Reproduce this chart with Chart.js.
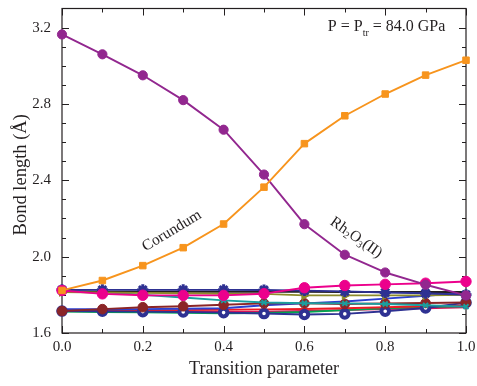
<!DOCTYPE html>
<html><head><meta charset="utf-8">
<script src="https://cdn.jsdelivr.net/npm/chart.js@4/dist/chart.umd.min.js"></script>
<style>html,body{margin:0;padding:0;background:#fff}#wrap{width:477px;height:386px}</style>
</head><body><div id="wrap"><canvas id="c" width="477" height="386"></canvas></div>
<script>
// Transition parameter (x) and bond lengths in Å for each pathway bond
const transition = [0.0, 0.1, 0.2, 0.3, 0.4, 0.5, 0.6, 0.7, 0.8, 0.9, 1.0];
const corundum   = [1.823, 1.875, 1.953, 2.047, 2.171, 2.364, 2.592, 2.738, 2.852, 2.951, 3.029];
const rh2o3      = [3.164, 3.060, 2.950, 2.820, 2.665, 2.430, 2.170, 2.010, 1.917, 1.853, 1.797];
const navyStar   = [1.826, 1.826, 1.826, 1.826, 1.826, 1.825, 1.822, 1.818, 1.812, 1.808, 1.800];
const pinkBond   = [1.823, 1.805, 1.798, 1.797, 1.797, 1.806, 1.837, 1.849, 1.855, 1.861, 1.870];
const tealBond   = [1.823, 1.815, 1.800, 1.786, 1.771, 1.760, 1.756, 1.755, 1.752, 1.745, 1.738];
const oliveBond  = [1.815, 1.812, 1.810, 1.808, 1.806, 1.805, 1.797, 1.797, 1.797, 1.797, 1.800];
const blackBond  = [1.817, 1.817, 1.816, 1.816, 1.816, 1.816, 1.816, 1.815, 1.815, 1.815, 1.815];
const darkRed    = [1.715, 1.725, 1.735, 1.740, 1.748, 1.755, 1.755, 1.752, 1.755, 1.757, 1.760];
const redBond    = [1.715, 1.716, 1.718, 1.720, 1.722, 1.724, 1.726, 1.730, 1.735, 1.740, 1.745];
const greenBond  = [1.712, 1.710, 1.708, 1.706, 1.703, 1.705, 1.710, 1.720, 1.730, 1.737, 1.740];
const blueBond   = [1.725, 1.725, 1.725, 1.727, 1.730, 1.745, 1.755, 1.765, 1.780, 1.795, 1.810];
const raspberry  = [1.715, 1.715, 1.713, 1.712, 1.710, 1.712, 1.715, 1.720, 1.725, 1.730, 1.735];
const navyRing   = [1.715, 1.714, 1.712, 1.710, 1.707, 1.702, 1.697, 1.700, 1.714, 1.731, 1.759];

const xTicks = [0.0, 0.2, 0.4, 0.6, 0.8, 1.0];
const yTicks = [1.6, 2.0, 2.4, 2.8, 3.2];

const SERIF = '"Liberation Serif", "Times New Roman", serif';

function pts(values) {
  return values.map((v, i) => ({ x: transition[i], y: v }));
}
function series(label, values, color, style) {
  return Object.assign({
    label, data: pts(values),
    borderColor: color, backgroundColor: color,
    borderWidth: 1.9, pointRadius: 0, pointBorderWidth: 1,
    pointBorderColor: color, pointBackgroundColor: color,
    clip: false, tension: 0
  }, style || {});
}

const datasets = [
  series('Corundum', corundum, '#f7941d', { pointStyle: 'rect', pointRadius: 4.6 }),
  series('Rh2O3(II)', rh2o3, '#92278f', { pointStyle: 'circle', pointRadius: 4.6 }),
  series('a', pinkBond, '#ec008c', { pointStyle: 'circle', pointRadius: 5.2 }),
  series('b', navyStar, '#2e3192', { pointStyle: 'star', pointRadius: 5.5, pointBorderWidth: 3 }),
  series('c', oliveBond, '#8d8b2a', { pointStyle: 'triangle', pointRadius: 5, rotation: 90 }),
  series('d', blackBond, '#231f20'),
  series('e', tealBond, '#1b9e9e', { pointStyle: 'crossRot', pointRadius: 3.5, pointBorderWidth: 2 }),
  series('f', darkRed, '#8b2527', { pointStyle: 'circle', pointRadius: 4.8 }),
  series('g', navyRing, '#2e3192', { pointStyle: 'circle', pointRadius: 3.8, pointBorderWidth: 4, pointBackgroundColor: '#ffffff' }),
  series('h', blueBond, '#2b3fd0'),
  series('i', redBond, '#ed1c24'),
  series('j', greenBond, '#00a651'),
  series('k', raspberry, '#d4145a')
];

// Inward ticks on all four sides, the frame, and the in-plot labels
const frameAndLabels = {
  id: 'frameAndLabels',
  beforeDatasetsDraw(chart) {
    const { ctx, chartArea: a, scales: { x, y } } = chart;
    ctx.save();
    ctx.strokeStyle = '#231f20';
    ctx.lineWidth = 1.2;
    ctx.strokeRect(a.left, a.top, a.right - a.left, a.bottom - a.top);
    ctx.lineWidth = 1;
    ctx.beginPath();
    for (let i = 0; i <= 10; i++) {
      const v = i / 10;
      const len = (i % 2 === 0) ? 7 : 4;
      const px = Math.round(x.getPixelForValue(v)) + 0.5;
      ctx.moveTo(px, a.bottom); ctx.lineTo(px, a.bottom - len);
      ctx.moveTo(px, a.top); ctx.lineTo(px, a.top + len);
    }
    for (let i = 0; i <= 17; i++) {
      const v = 1.6 + i * 0.1;
      const major = i % 4 === 0;
      const len = major ? 7 : 4;
      const py = Math.round(y.getPixelForValue(v)) + 0.5;
      ctx.moveTo(a.left, py); ctx.lineTo(a.left + len, py);
      ctx.moveTo(a.right, py); ctx.lineTo(a.right - len, py);
    }
    ctx.stroke();
    ctx.restore();
  },
  afterDatasetsDraw(chart) {
    const { ctx, chartArea: a, scales: { x, y } } = chart;
    ctx.save();
    ctx.fillStyle = '#231f20';
    ctx.textBaseline = 'alphabetic';

    // pressure note
    let cx = x.getPixelForValue(0.658), cy = y.getPixelForValue(3.184);
    const big = '16px ' + SERIF, small = '10px ' + SERIF;
    const parts = [['P = P', big, 0], ['tr', small, 5], [' = 84.0 GPa', big, 0]];
    ctx.textAlign = 'left';
    for (const [t, f, dy] of parts) {
      ctx.font = f; ctx.fillText(t, cx, cy + dy); cx += ctx.measureText(t).width;
    }

    // Corundum label along the rising branch
    ctx.save();
    ctx.translate(x.getPixelForValue(0.272), y.getPixelForValue(2.135));
    ctx.rotate(-31 * Math.PI / 180);
    ctx.font = '15.5px ' + SERIF;
    ctx.textAlign = 'center';
    ctx.textBaseline = 'middle';
    ctx.fillText('Corundum', 0, 0);
    ctx.restore();

    // Rh2O3(II) label along the falling branch
    ctx.save();
    ctx.translate(x.getPixelForValue(0.728), y.getPixelForValue(2.10));
    ctx.rotate(35 * Math.PI / 180);
    const rparts = [['Rh', '15.5px ' + SERIF, 0], ['2', '10px ' + SERIF, 4], ['O', '15.5px ' + SERIF, 0], ['3', '10px ' + SERIF, 4], ['(II)', '15.5px ' + SERIF, 0]];
    let w = 0;
    for (const [t, f] of rparts) { ctx.font = f; w += ctx.measureText(t).width; }
    let px = -w / 2;
    ctx.textBaseline = 'middle';
    ctx.textAlign = 'left';
    for (const [t, f, dy] of rparts) {
      ctx.font = f; ctx.fillText(t, px, dy); px += ctx.measureText(t).width;
    }
    ctx.restore();

    // axis titles
    ctx.font = '18px ' + SERIF;
    ctx.textAlign = 'center';
    ctx.textBaseline = 'middle';
    ctx.fillText('Transition parameter', (a.left + a.right) / 2, 369);
    ctx.save();
    ctx.translate(21, (a.top + a.bottom) / 2 + 4);
    ctx.rotate(-Math.PI / 2);
    ctx.font = '18.5px ' + SERIF;
    ctx.fillText('Bond length (\u00C5)', 0, 0);
    ctx.restore();
    ctx.restore();
  }
};

new Chart(document.getElementById('c'), {
  type: 'line',
  data: { datasets },
  options: {
    responsive: false,
    animation: false,
    devicePixelRatio: 1,
    layout: { padding: { left: 0, right: 11, top: 7, bottom: 0 } },
    plugins: { legend: { display: false }, tooltip: { enabled: false } },
    elements: { line: { borderJoinStyle: 'round' } },
    scales: {
      x: {
        type: 'linear', min: 0, max: 1,
        afterBuildTicks: s => { s.ticks = xTicks.map(v => ({ value: v })); },
        afterFit: s => { s.height = 53; s.paddingRight = 0; s.paddingLeft = 0; },
        grid: { display: false, drawTicks: false },
        border: { display: false },
        ticks: { padding: 5, color: '#231f20', maxRotation: 0, autoSkip: false,
                 font: { family: SERIF, size: 15 },
                 callback: v => Number(v).toFixed(1) }
      },
      y: {
        type: 'linear', min: 1.6, max: 3.3,
        afterBuildTicks: s => { s.ticks = yTicks.map(v => ({ value: v })); },
        afterFit: s => { s.width = 62; s.paddingTop = 0; s.paddingBottom = 0; },
        grid: { display: false, drawTicks: false },
        border: { display: false },
        ticks: { padding: 11, color: '#231f20', autoSkip: false,
                 font: { family: SERIF, size: 15 },
                 callback: v => Number(v).toFixed(1) }
      }
    }
  },
  plugins: [frameAndLabels]
});
</script>
</body></html>
